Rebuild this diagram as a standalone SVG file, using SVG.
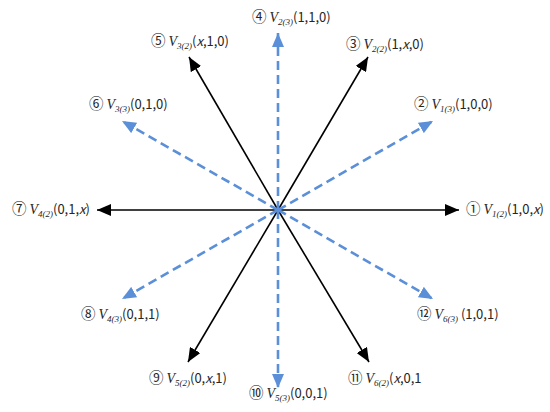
<svg xmlns="http://www.w3.org/2000/svg" width="550" height="412" viewBox="0 0 550 412">
<defs>
<marker id="ab" viewBox="0 0 14 12" refX="14" refY="6" markerWidth="14" markerHeight="12" markerUnits="userSpaceOnUse" orient="auto"><path d="M0,0 L14,6 L0,12 Z" fill="#000"/></marker>
<marker id="au" viewBox="0 0 14 12" refX="14" refY="6" markerWidth="14" markerHeight="12" markerUnits="userSpaceOnUse" orient="auto"><path d="M0,0 L14,6 L0,12 Z" fill="#5B8FD8"/></marker>
<style>
.k{stroke:#000;stroke-width:1.6;fill:none;marker-end:url(#ab)}
.b{stroke:#5B8FD8;stroke-width:2.6;fill:none;stroke-dasharray:9 5;marker-end:url(#au)}
text{font-family:"Noto Sans CJK KR","Liberation Sans",sans-serif;font-size:13px;fill:#262626}
.c{font-size:14.5px}
.v{font-family:"Liberation Serif",serif;font-style:italic;font-size:14px}
.s{font-family:"Liberation Serif",serif;font-style:italic;font-size:9px}
.i{font-style:italic}
</style>
</defs>
<g id="connectors">
<path class="k" d="M278,210 L459,210"/>
<path class="k" d="M278,210 L97,210"/>
<path class="k" d="M278,210 L368,57"/>
<path class="k" d="M278,210 L189,57"/>
<path class="k" d="M278,210 L188,362"/>
<path class="k" d="M278,210 L369,362"/>
<path class="b" d="M278,210 L278,33"/>
<path class="b" d="M278,210 L278,388"/>
<path class="b" d="M278,210 L433,121"/>
<path class="b" d="M278,210 L122,121"/>
<path class="b" d="M278,210 L122,299"/>
<path class="b" d="M278,210 L433,299"/>
</g>
<g id="n1"><text x="466" y="214"><tspan class="c">①</tspan> <tspan class="v">V</tspan><tspan class="s" dy="3">1(2)</tspan><tspan dy="-3">(1,0,</tspan><tspan class="i">x</tspan>)</text></g>
<g id="n2"><text x="414" y="109"><tspan class="c">②</tspan> <tspan class="v">V</tspan><tspan class="s" dy="3">1(3)</tspan><tspan dy="-3">(1,0,0)</tspan></text></g>
<g id="n3"><text x="346" y="49"><tspan class="c">③</tspan> <tspan class="v">V</tspan><tspan class="s" dy="3">2(2)</tspan><tspan dy="-3">(1,</tspan><tspan class="i">x</tspan>,0)</text></g>
<g id="n4"><text x="252" y="22"><tspan class="c">④</tspan> <tspan class="v">V</tspan><tspan class="s" dy="3">2(3)</tspan><tspan dy="-3">(1,1,0)</tspan></text></g>
<g id="n5"><text x="151" y="46"><tspan class="c">⑤</tspan> <tspan class="v">V</tspan><tspan class="s" dy="3">3(2)</tspan><tspan dy="-3">(</tspan><tspan class="i">x</tspan>,1,0)</text></g>
<g id="n6"><text x="89" y="109"><tspan class="c">⑥</tspan> <tspan class="v">V</tspan><tspan class="s" dy="3">3(3)</tspan><tspan dy="-3">(0,1,0)</tspan></text></g>
<g id="n7"><text x="12" y="214"><tspan class="c">⑦</tspan> <tspan class="v">V</tspan><tspan class="s" dy="3">4(2)</tspan><tspan dy="-3">(0,1,</tspan><tspan class="i">x</tspan>)</text></g>
<g id="n8"><text x="81" y="319"><tspan class="c">⑧</tspan> <tspan class="v">V</tspan><tspan class="s" dy="3">4(3)</tspan><tspan dy="-3">(0,1,1)</tspan></text></g>
<g id="n9"><text x="149" y="383"><tspan class="c">⑨</tspan> <tspan class="v">V</tspan><tspan class="s" dy="3">5(2)</tspan><tspan dy="-3">(0,</tspan><tspan class="i">x</tspan>,1)</text></g>
<g id="n10"><text x="249" y="398"><tspan class="c">⑩</tspan> <tspan class="v">V</tspan><tspan class="s" dy="3">5(3)</tspan><tspan dy="-3">(0,0,1)</tspan></text></g>
<g id="n11"><text x="348" y="383"><tspan class="c">⑪</tspan> <tspan class="v">V</tspan><tspan class="s" dy="3">6(2)</tspan><tspan dy="-3">(</tspan><tspan class="i">x</tspan>,0,1</text></g>
<g id="n12"><text x="417" y="319"><tspan class="c">⑫</tspan> <tspan class="v">V</tspan><tspan class="s" dy="3">6(3)</tspan><tspan dy="-3"> (1,0,1)</tspan></text></g>
</svg>
